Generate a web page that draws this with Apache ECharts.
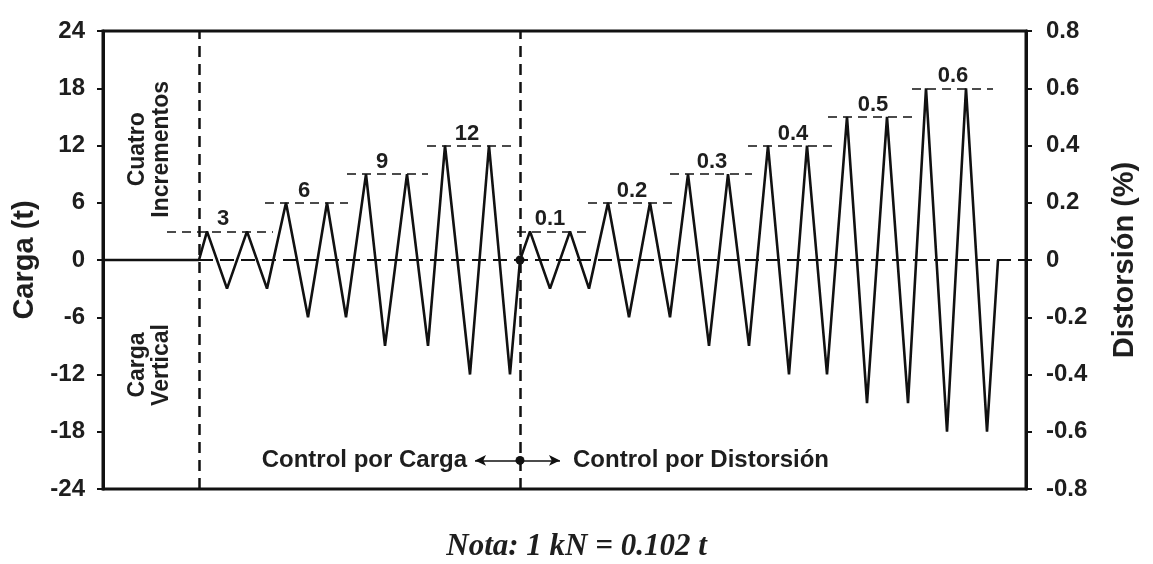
<!DOCTYPE html>
<html>
<head>
<meta charset="utf-8">
<script src="https://cdn.jsdelivr.net/npm/echarts@6/dist/echarts.min.js"></script>
<style>
  html, body { margin: 0; padding: 0; background: #fff; }
  #chart { width: 1153px; height: 564px; }
</style>
</head>
<body>
<div id="chart"></div>
<script>
// tiempo (eje horizontal sin escala) y valores
const cargaVerticalT = [0, 96];
const cargaVerticalVal = [0, 0];

// control por carga (t)
const cargaT = [96, 104, 124, 144, 164, 183, 205, 224, 243, 263, 282, 304, 325, 342, 367, 386, 407, 417];
const cargaVal = [0, 3, -3, 3, -3, 6, -6, 6, -6, 9, -9, 9, -9, 12, -12, 12, -12, 0];

// control por distorsión (%)
const distT = [417, 427, 447, 467, 486, 505, 526, 547, 567, 585, 606, 625, 646, 665, 686, 704, 724, 744, 764, 784, 805, 823, 844, 863, 884, 895];
const distVal = [0, 0.1, -0.1, 0.1, -0.1, 0.2, -0.2, 0.2, -0.2, 0.3, -0.3, 0.3, -0.3, 0.4, -0.4, 0.4, -0.4, 0.5, -0.5, 0.5, -0.5, 0.6, -0.6, 0.6, -0.6, 0];

// niveles marcados con líneas discontinuas
const cargaNiveles = [3, 6, 9, 12];
const cargaNivelDesde = [64, 162, 244, 324];
const cargaNivelHasta = [170, 245, 325, 410];
const cargaEtiquetaT = [120, 201, 279, 364];

const distNiveles = [0.1, 0.2, 0.3, 0.4, 0.5, 0.6];
const distNivelDesde = [414, 485, 567, 645, 725, 809];
const distNivelHasta = [487, 570, 649, 729, 809, 890];
const distEtiquetaT = [447, 529, 609, 690, 770, 850];

// cambios de fase
const faseT = [96, 417];
const tFin = 923;

const cargaTicks = [-24, -18, -12, -6, 0, 6, 12, 18, 24];
const distTicks = [-0.8, -0.6, -0.4, -0.2, 0, 0.2, 0.4, 0.6, 0.8];

const font = '"Liberation Sans", Arial, sans-serif';
const negro = '#111';
const texto = '#1e1e1e';

const zip = (a, b) => a.map((v, i) => [v, b[i]]);

const chart = echarts.init(document.getElementById('chart'));

// etiquetas de texto sin transparencia
const etiqueta = extra => Object.assign({
  show: true, fontFamily: font, fontWeight: 'bold', color: texto, opacity: 1
}, extra);

const option = {
  animation: false,
  grid: { left: 103, right: 127, top: 31, bottom: 75, show: true, borderColor: negro, borderWidth: 3 },
  xAxis: {
    type: 'value', min: 0, max: tFin,
    axisLine: { show: false }, axisTick: { show: false },
    axisLabel: { show: false }, splitLine: { show: false }
  },
  yAxis: [
    {
      type: 'value', min: cargaTicks[0], max: cargaTicks[cargaTicks.length - 1], interval: 6,
      name: 'Carga (t)', nameLocation: 'middle', nameGap: 50,
      nameTextStyle: { fontFamily: font, fontWeight: 'bold', fontSize: 29, color: texto },
      axisLine: { show: true, lineStyle: { color: negro, width: 3 } },
      axisTick: { show: true, length: 6, lineStyle: { color: negro, width: 2 } },
      axisLabel: { margin: 18, fontFamily: font, fontWeight: 'bold', fontSize: 24, color: texto },
      splitLine: { show: false }
    },
    {
      type: 'value', min: distTicks[0], max: distTicks[distTicks.length - 1], interval: 0.2,
      position: 'right',
      name: 'Distorsión (%)', nameLocation: 'middle', nameGap: 84,
      nameTextStyle: { fontFamily: font, fontWeight: 'bold', fontSize: 29, color: texto },
      axisLine: { show: true, lineStyle: { color: negro, width: 3 } },
      axisTick: { show: true, length: 6, lineStyle: { color: negro, width: 2 } },
      axisLabel: {
        margin: 20, fontFamily: font, fontWeight: 'bold', fontSize: 24, color: texto,
        formatter: v => (Math.abs(v) < 1e-9 ? '0' : v.toFixed(1))
      },
      splitLine: { show: false }
    }
  ],
  series: [
    {
      name: 'Carga vertical', type: 'line', data: zip(cargaVerticalT, cargaVerticalVal),
      symbol: 'none', lineStyle: { color: negro, width: 2.5 }, z: 5,
      markLine: {
        silent: true, symbol: ['none', 'none'], label: { show: false },
        data: [
          ...faseT.map(t => ({ xAxis: t, lineStyle: { color: negro, width: 2.5, type: [11, 7] } })),
          [{ coord: [faseT[0], 0], lineStyle: { color: negro, width: 2, type: [14, 7] } }, { coord: [tFin, 0] }]
        ]
      }
    },
    {
      name: 'Control por carga', type: 'line', data: zip(cargaT, cargaVal),
      symbol: 'none', lineStyle: { color: negro, width: 2.6 }, z: 5,
      markLine: {
        silent: true, symbol: ['none', 'none'], label: { show: false },
        lineStyle: { color: negro, width: 1.6, type: [9, 6] },
        data: cargaNiveles.map((n, i) => [{ coord: [cargaNivelDesde[i], n] }, { coord: [cargaNivelHasta[i], n] }])
      }
    },
    {
      name: 'Control por distorsión', type: 'line', yAxisIndex: 1, data: zip(distT, distVal),
      symbol: 'none', lineStyle: { color: negro, width: 2.6 }, z: 5,
      markLine: {
        silent: true, symbol: ['none', 'none'], label: { show: false },
        lineStyle: { color: negro, width: 1.6, type: [9, 6] },
        data: distNiveles.map((n, i) => [{ coord: [distNivelDesde[i], n] }, { coord: [distNivelHasta[i], n] }])
      }
    },
    {
      name: 'Cambio de control', type: 'scatter', data: [[faseT[1], 0], [faseT[1], -21]],
      symbol: 'circle', symbolSize: 9, itemStyle: { color: negro, opacity: 1 }, z: 6,
      markLine: {
        silent: true, symbol: ['arrow', 'arrow'], symbolSize: [8, 11], label: { show: false },
        lineStyle: { color: negro, width: 1.6, type: 'solid' },
        data: [[{ coord: [372, -21] }, { coord: [457, -21] }]]
      }
    },
    {
      name: 'Etiquetas carga', type: 'scatter', symbolSize: 0, itemStyle: { opacity: 1 },
      data: zip(cargaEtiquetaT, cargaNiveles),
      label: etiqueta({ position: 'top', distance: 1, formatter: p => String(p.value[1]), fontSize: 22 })
    },
    {
      name: 'Etiquetas distorsión', type: 'scatter', yAxisIndex: 1, symbolSize: 0, itemStyle: { opacity: 1 },
      data: zip(distEtiquetaT, distNiveles),
      label: etiqueta({ position: 'top', distance: 1, formatter: p => p.value[1].toFixed(1), fontSize: 22 })
    },
    {
      name: 'Notas', type: 'scatter', symbolSize: 0, itemStyle: { opacity: 1 },
      label: etiqueta({}),
      data: [
        { value: [47, 11.6], label: etiqueta({ formatter: 'Cuatro\nIncrementos', rotate: 90, position: 'inside', fontSize: 23, lineHeight: 24 }) },
        { value: [47, -11], label: etiqueta({ formatter: 'Carga\nVertical', rotate: 90, position: 'inside', fontSize: 23, lineHeight: 24 }) },
        { value: [364, -21], label: etiqueta({ formatter: 'Control por Carga', position: 'left', distance: 0, fontSize: 24 }) },
        { value: [470, -21], label: etiqueta({ formatter: 'Control por Distorsión', position: 'right', distance: 0, fontSize: 24 }) }
      ]
    }
  ],
  graphic: [
    {
      type: 'text', left: 'center', top: 531,
      style: {
        text: 'Nota: 1 kN = 0.102 t', fill: texto,
        font: 'italic bold 31px "Liberation Serif", "Times New Roman", serif'
      }
    }
  ]
};

chart.setOption(option);
</script>
</body>
</html>
